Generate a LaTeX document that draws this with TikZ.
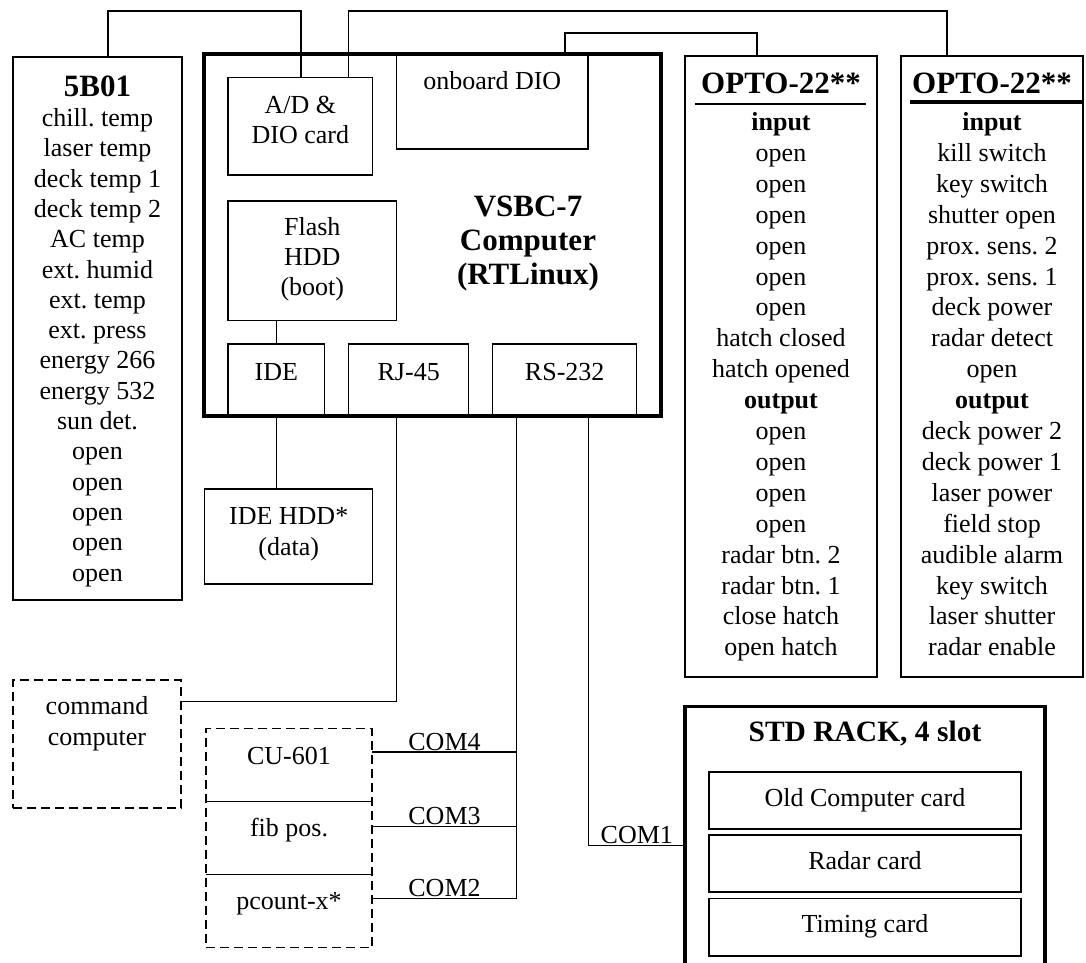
\documentclass[tikz,border=0pt]{standalone}
\usepackage{fontspec}
\setmainfont{Liberation Serif}
\frenchspacing
\newcommand\rbox[6]{\node[#2, minimum width={((#5)-(#3))*1pt}, minimum height={((#6)-(#4))*1pt}] (#1) at ({((#3)+(#5))/2},{((#4)+(#6))/2}) {};}
\tikzset{
  box/.style={draw, line width=1.3pt, inner sep=0pt, outer sep=0pt},
  thickbox/.style={draw, line width=3.4pt, inner sep=0pt, outer sep=0pt},
  dbox/.style={draw, line width=1.8pt, dash pattern=on 9pt off 5pt, inner sep=0pt, outer sep=0pt},
  wire/.style={line width=1.3pt},
  txt/.style={anchor=base, inner sep=0pt, font=\fontsize{26}{30}\selectfont\frenchspacing},
  btxt/.style={anchor=base, inner sep=0pt, font=\fontsize{31}{36}\selectfont\bfseries},
  hdr/.style={anchor=base, inner sep=0pt, font=\fontsize{27}{30}\selectfont\bfseries},
}
\begin{document}
\begin{tikzpicture}[x=1pt,y=-1pt]
\path[fill=white, use as bounding box] (0,0) rectangle (1086,962);

% ---------- boxes ----------
\rbox{b5}{box}{13}{57}{182}{600}
\rbox{vsbc}{thickbox}{204}{54}{661}{416}
\rbox{ad}{box}{228}{77.7}{372.7}{175}
\rbox{dio}{box}{396.7}{54}{588}{149}
\rbox{flash}{box}{228}{201}{396.7}{320.7}
\rbox{ide}{box}{228}{344}{324.7}{416.7}
\rbox{rj}{box}{348.7}{344}{468.7}{416.7}
\rbox{rs}{box}{492.7}{344}{636.7}{416.7}
\rbox{hdd}{box}{204.7}{489}{372.7}{584}
\rbox{optoL}{box}{685}{56}{877}{677}
\rbox{optoR}{box}{901}{56}{1083}{677}
\rbox{cmd}{dbox}{13}{680}{181}{808}
\rbox{grp}{dbox}{206}{728.5}{372}{947.5}
\rbox{std}{thickbox}{685}{706.5}{1045}{980}
\rbox{c1}{box}{709}{772}{1021}{829}
\rbox{c2}{box}{709}{835}{1021}{892}
\rbox{c3}{box}{709}{898.5}{1021}{956}

% dividers in the dashed group
\draw[wire] (grp.west |- 0,801.3) -- (grp.east |- 0,801.3);
\draw[wire] (grp.west |- 0,874.4) -- (grp.east |- 0,874.4);

% OPTO header rules
\draw[line width=1.5pt] (695,104) -- (866,104);
\draw[line width=3.5pt] (910,102) -- (1082,102);

% ---------- top wires ----------
\draw[wire] ([xshift=95pt]b5.north west) -- ++(0,-46) -| ([xshift=73pt]ad.north west);
\draw[wire] ([xshift=120.7pt]ad.north west) -- ++(0,-66.7) -| ([xshift=46pt]optoR.north west);
\draw[wire] ([xshift=168.3pt]dio.north west) -- ++(0,-21) -| ([xshift=72pt]optoL.north west);

% ---------- internal / lower wires ----------
\draw[wire] ([xshift=48.7pt]flash.south west) -- ([xshift=48.7pt]ide.north west);
\draw[wire] ([xshift=48.7pt]ide.south west) -- ([xshift=72pt]hdd.north west);
\draw[wire] ([xshift=48pt]rj.south west) |- ([yshift=-21.6pt]cmd.north east);

\coordinate (j4) at (516.7,752);
\coordinate (j3) at (516.7,826.4);
\coordinate (j2) at (516.7,898.5);
\coordinate (j1) at (588.7,845.6);
\draw[wire] (j2 |- rs.south) -- (j2);
\draw[wire] (grp.east |- j4) -- (j4);
\draw[wire] (grp.east |- j3) -- (j3);
\draw[wire] (grp.east |- j2) -- (j2);
\draw[wire] (j1 |- rs.south) -- (j1) -- (j1 -| std.west);

\node[txt] (com4) at (444.5,750) {COM4};
\node[txt] (com3) at (444.5,824.4) {COM3};
\node[txt] (com2) at (444.5,896.5) {COM2};
\node[txt] (com1) at (636.8,843.8) {COM1};

% ---------- texts ----------
\node[btxt] (t5) at (97.5,96.7) {5B01};
\foreach \t [count=\i from 0] in {chill. temp, laser temp, deck temp 1, deck temp 2, AC temp, ext. humid, ext. temp, ext. press, energy 266, energy 532, sun det., open, open, open, open, open}
  \node[txt] (l5-\i) at (97.5,{126.5+30.3*\i}) {\t};

\node[btxt] (tL) at (781,93) {OPTO-22**};
\foreach \t [count=\i from 0] in {{\textbf{input}}, open, open, open, open, open, open, hatch closed, hatch opened, {\textbf{output}}, open, open, open, open, radar btn. 2, radar btn. 1, close hatch, open hatch}
  \node[txt] (lL-\i) at (781,{130.5+30.9*\i}) {\t};

\node[btxt] (tR) at (992,93) {OPTO-22**};
\foreach \t [count=\i from 0] in {{\textbf{input}}, kill switch, key switch, shutter open, prox. sens. 2, prox. sens. 1, deck power, radar detect, open, {\textbf{output}}, deck power 2, deck power 1, laser power, field stop, audible alarm, key switch, laser shutter, radar enable}
  \node[txt] (lR-\i) at (992,{130.5+30.9*\i}) {\t};

\node[btxt] (v1) at (528,216) {VSBC-7};
\node[btxt] (v2) at (528,250) {Computer};
\node[btxt] (v3) at (528,284) {(RTLinux)};

\node[txt] (ad1) at (300.3,113.5) {A/D \&};
\node[txt] (ad2) at (300.3,143) {DIO card};
\node[txt] (diot) at (492.3,89.5) {onboard DIO};
\node[txt] (fl1) at (312.3,235.5) {Flash};
\node[txt] (fl2) at (312.3,265.5) {HDD};
\node[txt] (fl3) at (312.3,295.5) {(boot)};
\node[txt] (idet) at (276.3,380) {IDE};
\node[txt] (rjt) at (408.7,380) {RJ-45};
\node[txt] (rst) at (564.7,380) {RS-232};
\node[txt] (hd1) at (288.7,524) {IDE HDD*};
\node[txt] (hd2) at (288.7,555) {(data)};
\node[txt] (cm1) at (97,714) {command};
\node[txt] (cm2) at (97,745) {computer};
\node[txt] (g1) at (289,764) {CU-601};
\node[txt] (g2) at (289,836.5) {fib pos.};
\node[txt] (g3) at (289,909) {pcount-x*};

\node[anchor=base, inner sep=0pt, font=\fontsize{29.5}{34}\selectfont\bfseries] (stdt) at (865,741) {STD RACK, 4 slot};
\node[txt] (c1t) at (865,806) {Old Computer card};
\node[txt] (c2t) at (865,869) {Radar card};
\node[txt] (c3t) at (865,932) {Timing card};
\end{tikzpicture}
\end{document}
